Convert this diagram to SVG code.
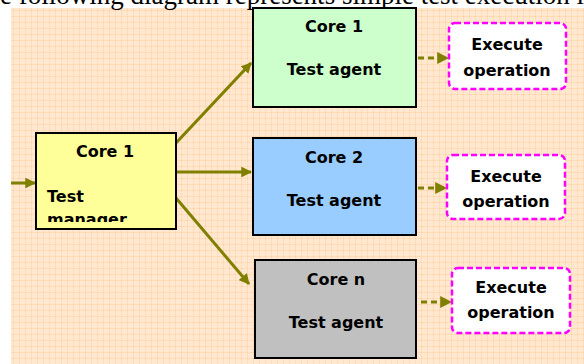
<svg xmlns="http://www.w3.org/2000/svg" width="584" height="364" viewBox="0 0 584 364">
  <defs>
    <!-- peach dotted backdrop -->
    <pattern id="peach" x="11" y="8" width="6" height="6" patternUnits="userSpaceOnUse">
      <rect width="6" height="6" fill="#FFE7D0"/>
      <rect x="0" y="2" width="6" height="1" fill="#FFDDBB"/>
      <rect x="2" y="0" width="1" height="6" fill="#FFDDBB"/>
      <rect x="2" y="2" width="1" height="1" fill="#FFCC99"/>
    </pattern>
    <marker id="arr" viewBox="0 0 10 10" refX="9" refY="5" markerWidth="3.6" markerHeight="3.6" orient="auto" markerUnits="strokeWidth">
      <path d="M0,0 L10,5 L0,10 Z" fill="#808000"/>
    </marker>
    <marker id="arrSm" viewBox="0 0 10 10" refX="9" refY="5" markerWidth="4" markerHeight="4" orient="auto" markerUnits="strokeWidth">
      <path d="M0,0 L10,5 L0,10 Z" fill="#808000"/>
    </marker>
    <!-- text area of the manager box; the last line overflows and is cut -->
    <clipPath id="mgrClip">
      <rect x="36" y="133" width="140" height="89"/>
    </clipPath>
  </defs>
  <style>
    .lbl { font-family: "DejaVu Sans", Verdana, sans-serif; font-weight: bold; font-size: 16px; fill: #000; }
    .box { stroke: #000; stroke-width: 2; }
    .exec { fill: #fff; stroke: #FF00FF; stroke-width: 2.5; stroke-dasharray: 6 3; }
    .link { stroke: #808000; stroke-width: 3; fill: none; }
    .dash { stroke: #808000; stroke-width: 3; fill: none; stroke-dasharray: 6 4; }
    .caption { font-family: "Liberation Serif", "Times New Roman", serif; font-size: 27px; fill: #000; }
  </style>

  <rect width="584" height="364" fill="#fff"/>
  <rect x="11" y="8" width="573" height="356" fill="url(#peach)"/>

  <text class="caption" x="-30" y="4">The following diagram represents simple test execution in</text>

  <g id="connectors">
    <line class="link" x1="11" y1="183" x2="35" y2="183" marker-end="url(#arr)"/>
    <line class="link" x1="176" y1="143" x2="251" y2="63" marker-end="url(#arr)"/>
    <line class="link" x1="176" y1="172" x2="251" y2="172" marker-end="url(#arr)"/>
    <line class="link" x1="176" y1="198" x2="249" y2="284" marker-end="url(#arr)"/>
    <line class="dash" x1="418" y1="58" x2="448" y2="58" marker-end="url(#arrSm)"/>
    <line class="dash" x1="418" y1="188" x2="446" y2="188" marker-end="url(#arrSm)"/>
    <line class="dash" x1="421" y1="302" x2="451" y2="302" marker-end="url(#arrSm)"/>
  </g>

  <g id="manager">
    <rect class="box" x="36" y="133" width="140" height="96" fill="#FFFF99" stroke-width="1.5"/>
    <g clip-path="url(#mgrClip)">
      <text class="lbl" x="105" y="157" text-anchor="middle">Core 1</text>
      <text class="lbl" x="47" y="202">Test</text>
      <text class="lbl" x="47" y="225">manager</text>
    </g>
  </g>

  <g id="agent1">
    <rect class="box" x="253" y="8" width="163" height="99" fill="#CCFFCC"/>
    <text class="lbl" x="334" y="32" text-anchor="middle">Core 1</text>
    <text class="lbl" x="334" y="75" text-anchor="middle">Test agent</text>
  </g>

  <g id="agent2">
    <rect class="box" x="253" y="138" width="163" height="97" fill="#99CCFF"/>
    <text class="lbl" x="334" y="163" text-anchor="middle">Core 2</text>
    <text class="lbl" x="334" y="206" text-anchor="middle">Test agent</text>
  </g>

  <g id="agentN">
    <rect class="box" x="255" y="260" width="161" height="98" fill="#C0C0C0"/>
    <text class="lbl" x="336" y="285" text-anchor="middle">Core n</text>
    <text class="lbl" x="336" y="328" text-anchor="middle">Test agent</text>
  </g>

  <g id="exec1">
    <rect class="exec" x="449" y="23" width="117" height="66" rx="6"/>
    <text class="lbl" x="507" y="50" text-anchor="middle">Execute</text>
    <text class="lbl" x="507" y="76" text-anchor="middle">operation</text>
  </g>

  <g id="exec2">
    <rect class="exec" x="447" y="155" width="118" height="64" rx="6"/>
    <text class="lbl" x="506" y="182" text-anchor="middle">Execute</text>
    <text class="lbl" x="506" y="207" text-anchor="middle">operation</text>
  </g>

  <g id="execN">
    <rect class="exec" x="452" y="268" width="118" height="65" rx="6"/>
    <text class="lbl" x="511" y="293" text-anchor="middle">Execute</text>
    <text class="lbl" x="511" y="318" text-anchor="middle">operation</text>
  </g>
</svg>
